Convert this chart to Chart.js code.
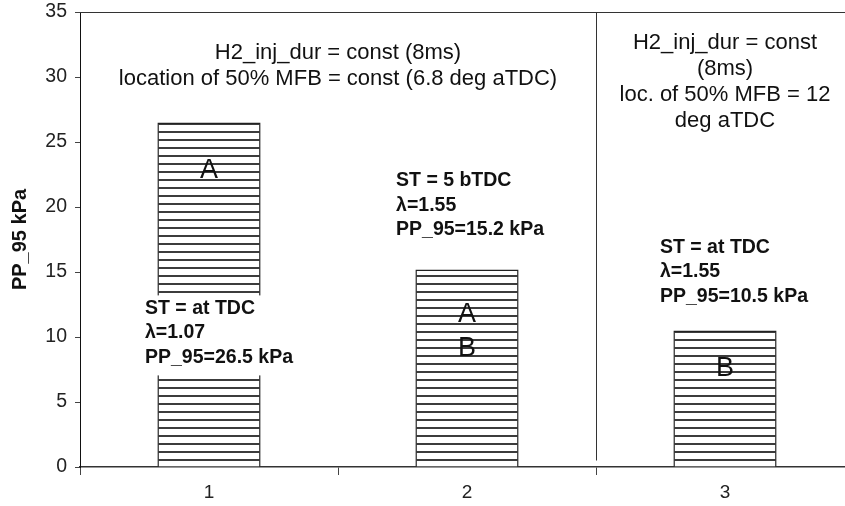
<!DOCTYPE html>
<html>
<head>
<meta charset="utf-8">
<script src="https://cdn.jsdelivr.net/npm/chart.js@4/dist/chart.umd.min.js"></script>
<style>
  html, body { margin: 0; padding: 0; background: #fff; overflow: hidden; }
</style>
</head>
<body>
<canvas id="bar-chart" width="860" height="506"></canvas>
<script>
const categories = ['1', '2', '3'];
const pp95 = [26.5, 15.2, 10.5];
const yMax = 35;
const yStep = 5;

// header notes: [x (category index), y (kPa) of first line, lines]
const headerNotes = [
  [0.5, 31.85, ['H2_inj_dur = const (8ms)', 'location of 50% MFB = const (6.8 deg aTDC)']],
  [2.0, 32.6, ['H2_inj_dur = const', '(8ms)', 'loc. of 50% MFB = 12', 'deg aTDC']],
];
// bold bar labels: [x left (category index), y of first line, lines]
const barNotes = [
  [-0.248, 12.2, ['ST = at TDC', 'λ=1.07', 'PP_95=26.5 kPa']],
  [0.725, 22.0, ['ST = 5 bTDC', 'λ=1.55', 'PP_95=15.2 kPa']],
  [1.748, 16.9, ['ST = at TDC', 'λ=1.55', 'PP_95=10.5 kPa']],
];
// letters inside bars: [x, y, text]
const letters = [
  [0, 22.8, 'A'],
  [1, 11.7, 'A'],
  [1, 9.15, 'B'],
  [2, 7.6, 'B'],
];
const separatorAt = 1.5;

const FONT = '"Liberation Sans", Arial, sans-serif';

function hatch() {
  const c = document.createElement('canvas');
  c.width = 8; c.height = 8;
  const g = c.getContext('2d');
  g.fillStyle = '#fff';
  g.fillRect(0, 0, 8, 8);
  g.fillStyle = '#3c3c3c';
  g.fillRect(0, 3, 8, 2);
  return g.createPattern(c, 'repeat');
}

const notesPlugin = {
  id: 'notes',
  afterDatasetsDraw(chart) {
    const { ctx, chartArea, scales: { x, y } } = chart;
    ctx.save();

    // top frame line
    ctx.strokeStyle = '#333';
    ctx.lineWidth = 1;
    ctx.beginPath();
    ctx.moveTo(chartArea.left, chartArea.top + 0.5);
    ctx.lineTo(chartArea.right, chartArea.top + 0.5);
    ctx.stroke();

    // separator
    const sx = Math.round(x.getPixelForValue(separatorAt)) + 0.5;
    ctx.beginPath();
    ctx.moveTo(sx, y.getPixelForValue(yMax));
    ctx.lineTo(sx, y.getPixelForValue(0.5));
    ctx.stroke();

    ctx.fillStyle = '#111';
    ctx.textBaseline = 'middle';

    ctx.font = '22px ' + FONT;
    ctx.textAlign = 'center';
    headerNotes.forEach(([xv, yv, lines]) => {
      const px = x.getPixelForValue(xv);
      const py = y.getPixelForValue(yv);
      lines.forEach((t, i) => ctx.fillText(t, px, py + i * 26));
    });

    ctx.font = 'bold 19.5px ' + FONT;
    ctx.textAlign = 'left';
    barNotes.forEach(([xv, yv, lines]) => {
      const px = x.getPixelForValue(xv);
      const py = y.getPixelForValue(yv);
      const w = Math.max(...lines.map(t => ctx.measureText(t).width));
      ctx.fillStyle = '#fff';
      ctx.fillRect(px - 4, py - 13, w + 8, (lines.length - 1) * 24.5 + 31);
      ctx.fillStyle = '#111';
      lines.forEach((t, i) => ctx.fillText(t, px, py + i * 24.5));
    });

    ctx.font = '27px ' + FONT;
    ctx.textAlign = 'center';
    letters.forEach(([xv, yv, t]) => {
      ctx.fillText(t, x.getPixelForValue(xv), y.getPixelForValue(yv));
    });

    ctx.restore();
  }
};

const ctx = document.getElementById('bar-chart').getContext('2d');
new Chart(ctx, {
  type: 'bar',
  data: {
    labels: categories,
    datasets: [{
      label: 'PP_95',
      data: pp95,
      backgroundColor: hatch(),
      borderColor: '#222',
      borderWidth: 1.5,
      categoryPercentage: 1,
      barPercentage: 0.4,
    }],
  },
  options: {
    responsive: false,
    animation: false,
    layout: { padding: { top: 12, right: 6, left: 0, bottom: 0 } },
    plugins: {
      legend: { display: false },
      tooltip: { enabled: false },
    },
    scales: {
      x: {
        grid: { offset: true, drawOnChartArea: false, tickLength: 8, color: '#444' },
        border: { color: '#333', width: 1.5 },
        ticks: { color: '#222', font: { family: FONT, size: 19 }, padding: 6 },
        afterFit: (s) => { s.height = 39; s.paddingLeft = 0; s.paddingRight = 0; },
      },
      y: {
        min: 0,
        max: yMax,
        ticks: { stepSize: yStep, color: '#222', font: { family: FONT, size: 19.5 }, padding: 8 },
        grid: { drawOnChartArea: false, tickLength: 5, color: '#444' },
        border: { color: '#111', width: 1 },
        title: {
          display: true,
          text: 'PP_95 kPa',
          color: '#111',
          font: { family: FONT, size: 20, weight: 'bold' },
          padding: { top: 8, bottom: 0 },
        },
        afterFit: (s) => { s.width = 80; s.paddingTop = 0; s.paddingBottom = 0; },
      },
    },
  },
  plugins: [notesPlugin],
});
</script>
</body>
</html>
